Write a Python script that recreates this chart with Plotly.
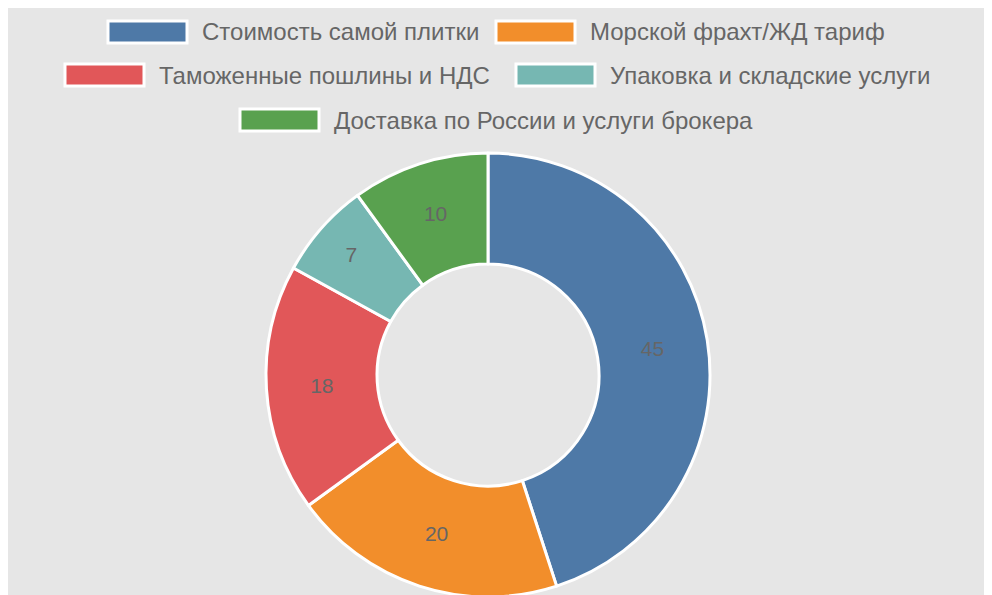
import plotly.graph_objects as go

labels = ["Стоимость самой плитки", "Морской фрахт/ЖД тариф", "Таможенные пошлины и НДС",
          "Упаковка и складские услуги", "Доставка по России и услуги брокера"]
values = [45, 20, 18, 7, 10]
colors = ["#4e79a7", "#f28e2b", "#e15759", "#76b7b2", "#59a14f"]

W, H = 992, 595
OFF = 8  # page body offset

fig = go.Figure(go.Pie(
    labels=labels, values=values, hole=0.5, sort=False, direction="clockwise", rotation=0,
    marker=dict(colors=colors, line=dict(color="white", width=3)),
    textinfo="value", textposition="inside", insidetextorientation="horizontal",
    textfont=dict(size=21, color="#666666"), showlegend=False,
    domain=dict(x=[(266 - OFF) / W, (710 - OFF) / W], y=[1 - (597 - OFF) / H, 1 - (153 - OFF) / H]),
))

# manual legend layout (screen coords: box left, text left, row centre y)
legend_pos = [(108, 200, 32), (496, 588, 32), (65, 157, 75), (516, 608, 75), (240, 332, 120)]
shapes, annos = [], []
for (bx, tx, cy), lab, col in zip(legend_pos, labels, colors):
    shapes.append(dict(type="rect", xref="paper", yref="paper",
                       x0=(bx - OFF) / W, x1=(bx + 79 - OFF) / W,
                       y0=1 - (cy + 11 - OFF) / H, y1=1 - (cy - 11 - OFF) / H,
                       fillcolor=col, line=dict(color="white", width=3)))
    annos.append(dict(xref="paper", yref="paper", x=(tx - OFF) / W, y=1 - (cy - OFF) / H,
                      xanchor="left", yanchor="middle", text=lab, showarrow=False,
                      font=dict(size=24, color="#666666")))

fig.update_layout(
    width=W, height=H, paper_bgcolor="#e6e6e6", plot_bgcolor="#e6e6e6",
    margin=dict(l=0, r=0, t=0, b=0),
    font=dict(family="Liberation Sans, Arial, sans-serif", color="#666666", size=22),
    shapes=shapes, annotations=annos,
)
fig.write_html("out.html")
